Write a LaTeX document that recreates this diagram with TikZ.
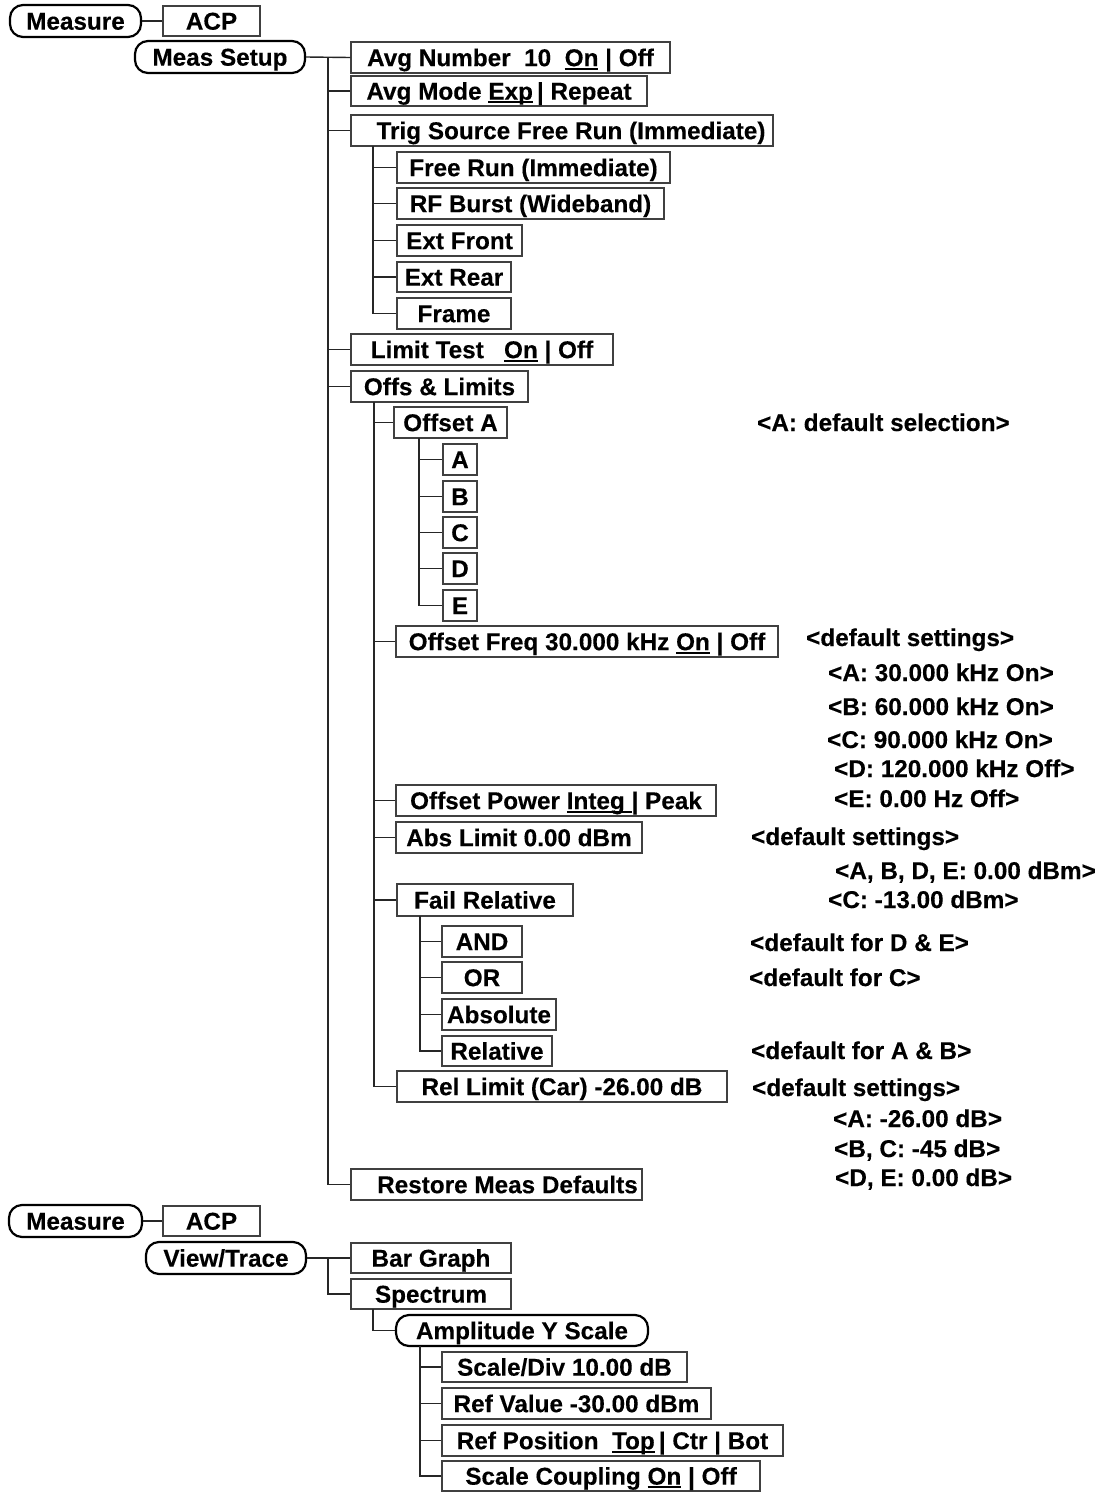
\documentclass[tikz,border=0pt]{standalone}
\usepackage{fontspec}
\setmainfont{Liberation Sans}[FakeBold=0.3]
\newcommand\myul[1]{\setbox0=\hbox{#1}\rlap{\rule[-3.5pt]{\wd0}{1.8pt}}\box0\relax}
\newcommand\bx[7]{\node[#1, minimum width={#4-#3}, minimum height={#6-#5}] (#2) at ({(#3+#4)/2},{(#5+#6)/2}) {#7};}
\tikzset{
  box/.style={draw=black!75, line width=1.2pt, inner sep=0pt, text height=17.3pt, text depth=0pt},
  rbox/.style={box, draw=black, line width=2.2pt, rounded corners=13pt},
  conn/.style={draw=black!85, line width=1.4pt},
  note/.style={anchor=base west, inner sep=0pt}
}
\begin{document}
\begin{tikzpicture}[x=1pt, y=-1pt, font=\fontsize{24.3}{28}\selectfont\bfseries]
\useasboundingbox[fill=white] (0,0) rectangle (1111,1492);
% first tree
\bx{rbox}{meas1}{10}{141}{5}{37}{Measure}
\bx{box}{acp1}{163}{260}{6}{36}{ACP}
\bx{rbox}{setup}{135}{305}{41}{73}{Meas Setup}
\bx{box}{avgnum}{351}{670}{42}{73}{Avg Number\ \ 10\ \ \myul{On} | Off}
\bx{box}{avgmode}{351}{647}{76}{106}{Avg Mode \myul{Exp}\,| Repeat}
\bx{box}{trig}{351}{773}{115}{146}{\hspace*{18pt}Trig Source Free Run (Immediate)}
\bx{box}{freerun}{397}{670}{152}{183}{Free Run (Immediate)}
\bx{box}{rfburst}{397}{664}{188}{219}{RF Burst (Wideband)}
\bx{box}{extfront}{397}{522}{225}{256}{Ext Front}
\bx{box}{extrear}{397}{511}{262}{292}{Ext Rear}
\bx{box}{frame}{397}{511}{298}{329}{Frame}
\bx{box}{limit}{351}{613}{334}{365}{Limit Test\ \ \ \myul{On} | Off}
\bx{box}{offs}{351}{528}{371}{402}{Offs \& Limits}
\bx{box}{offA}{394}{507}{407}{438}{Offset A}
\bx{box}{oA}{443}{477}{444}{475}{A}
\bx{box}{oB}{443}{477}{481}{512}{B}
\bx{box}{oC}{443}{477}{517}{548}{C}
\bx{box}{oD}{443}{477}{553}{584}{D}
\bx{box}{oE}{443}{477}{590}{621}{E}
\bx{box}{offfreq}{396}{778}{626}{657}{Offset Freq 30.000 kHz \myul{On} | Off}
\bx{box}{offpow}{396}{716}{785}{816}{Offset Power \myul{Integ\ }| Peak}
\bx{box}{abslim}{396}{642}{822}{853}{Abs Limit 0.00 dBm}
\bx{box}{failrel}{397}{573}{884}{916}{Fail Relative}
\bx{box}{fand}{442}{522}{926}{957}{AND}
\bx{box}{for}{442}{522}{962}{993}{OR}
\bx{box}{fabs}{442}{556}{999}{1030}{Absolute}
\bx{box}{frel}{442}{552}{1036}{1066}{Relative}
\bx{box}{rellim}{397}{727}{1071}{1102}{Rel Limit (Car) -26.00 dB}
\bx{box}{restore}{351}{642}{1169}{1200}{\hspace*{22pt}Restore Meas Defaults}
% second tree
\bx{rbox}{meas2}{9}{142}{1205}{1237}{Measure}
\bx{box}{acp2}{163}{260}{1206}{1236}{ACP}
\bx{rbox}{view}{146}{306}{1242}{1274}{View/Trace}
\bx{box}{bar}{351}{511}{1243}{1273}{Bar Graph}
\bx{box}{spec}{351}{511}{1279}{1309}{Spectrum}
\bx{rbox}{amp}{396}{648}{1315}{1346}{Amplitude Y Scale}
\bx{box}{sdiv}{442}{687}{1352}{1382}{Scale/Div 10.00 dB}
\bx{box}{rval}{442}{711}{1388}{1419}{Ref Value -30.00 dBm}
\bx{box}{rpos}{442}{783}{1425}{1456}{Ref Position\ \ \myul{Top}\,| Ctr | Bot}
\bx{box}{scoup}{442}{760}{1461}{1491}{Scale Coupling \myul{On} | Off}
% notes
\node[note] (nA) at (757,431) {<A: default selection>};
\node[note] (n1) at (806,646) {<default settings>};
\node[note] (n2) at (828,681) {<A: 30.000 kHz On>};
\node[note] (n3) at (828,715) {<B: 60.000 kHz On>};
\node[note] (n4) at (827,748) {<C: 90.000 kHz On>};
\node[note] (n5) at (834,777) {<D: 120.000 kHz Off>};
\node[note] (n6) at (834,807) {<E: 0.00 Hz Off>};
\node[note] (n7) at (751,845) {<default settings>};
\node[note] (n8) at (835,879) {<A, B, D, E: 0.00 dBm>};
\node[note] (n9) at (828,908) {<C: -13.00 dBm>};
\node[note] (n10) at (750,951) {<default for D \& E>};
\node[note] (n11) at (749,986) {<default for C>};
\node[note] (n12) at (751,1059) {<default for A \& B>};
\node[note] (n13) at (752,1096) {<default settings>};
\node[note] (n14) at (833,1127) {<A: -26.00 dB>};
\node[note] (n15) at (834,1157) {<B, C: -45 dB>};
\node[note] (n16) at (835,1186) {<D, E: 0.00 dB>};
% connectors
\draw[conn] (meas1.east) -- (acp1.west);
\draw[conn] (meas2.east) -- (acp2.west);
\coordinate (T1) at (328,57.5);
\draw[conn] (setup.east) -- (avgnum.west);
\draw[conn] (T1) |- (restore.west);
\foreach \n in {avgmode,trig,limit,offs} \draw[conn] (T1 |- \n.west) -- (\n.west);
\coordinate (T2) at (373,146);
\draw[conn] (T2) |- (frame.west);
\foreach \n in {freerun,rfburst,extfront,extrear} \draw[conn] (T2 |- \n.west) -- (\n.west);
\coordinate (T3) at (374,402);
\draw[conn] (T3) |- (rellim.west);
\foreach \n in {offA,offfreq,offpow,abslim,failrel} \draw[conn] (T3 |- \n.west) -- (\n.west);
\coordinate (T4) at (419,438);
\draw[conn] (T4) |- (oE.west);
\foreach \n in {oA,oB,oC,oD} \draw[conn] (T4 |- \n.west) -- (\n.west);
\coordinate (T5) at (420,916);
\draw[conn] (T5) |- (frel.west);
\foreach \n in {fand,for,fabs} \draw[conn] (T5 |- \n.west) -- (\n.west);
\coordinate (T6) at (328,1258);
\draw[conn] (view.east) -- (bar.west);
\draw[conn] (T6) |- (spec.west);
\coordinate (T7) at (373,1309);
\draw[conn] (T7) |- (amp.west);
\coordinate (T8) at (420,1346);
\draw[conn] (T8) |- (scoup.west);
\foreach \n in {sdiv,rval,rpos} \draw[conn] (T8 |- \n.west) -- (\n.west);
\end{tikzpicture}
\end{document}
